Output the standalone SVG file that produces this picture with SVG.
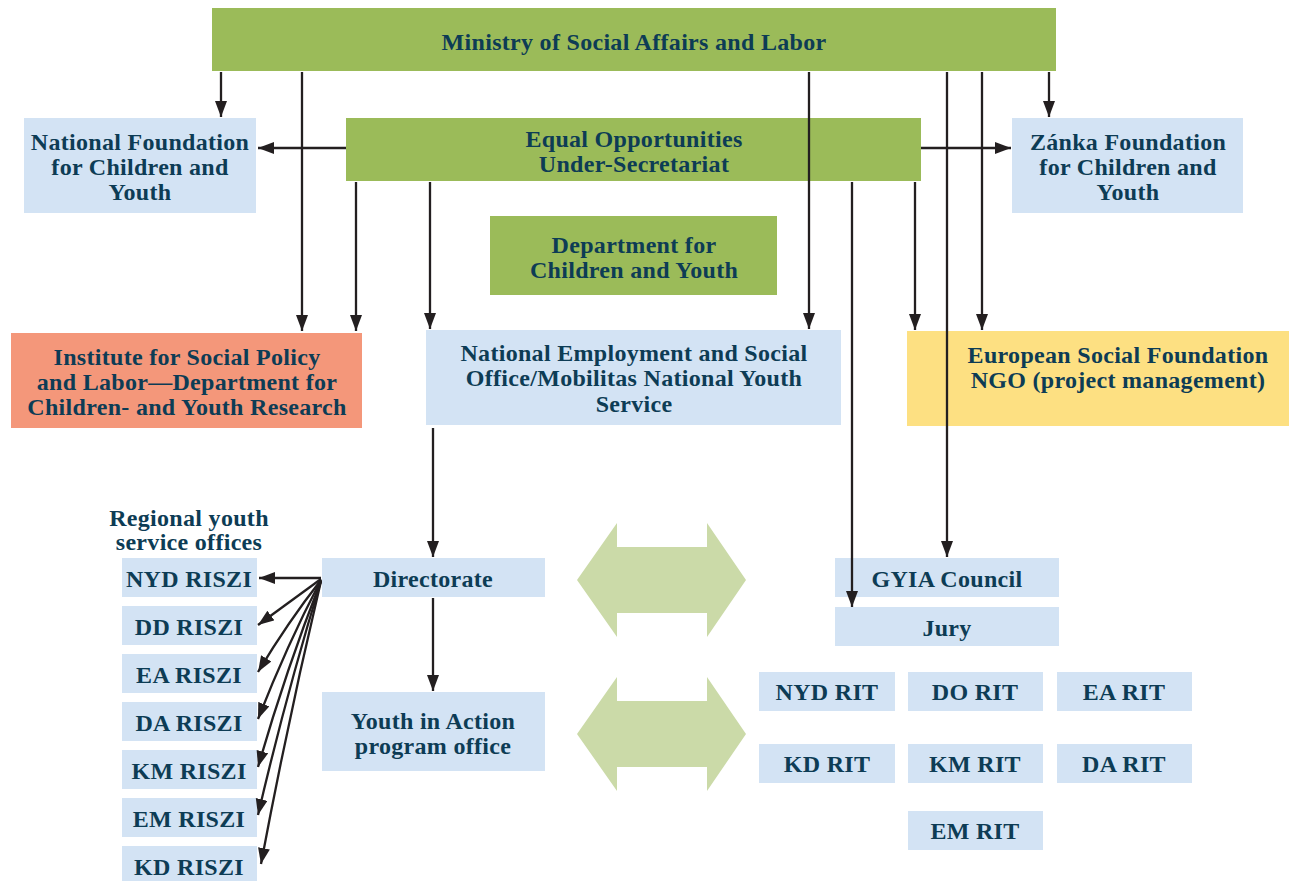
<svg xmlns="http://www.w3.org/2000/svg" width="1289" height="881" viewBox="0 0 1289 881">
<style>
.g{fill:#9bbb59}
.b{fill:#d3e3f4}
.t{font-family:"Liberation Serif","Times New Roman",serif;font-weight:bold;font-size:24px;letter-spacing:0.3px;fill:#0d3c55;text-anchor:middle}
.c{stroke:#231f20;stroke-width:2.3;fill:none;marker-end:url(#ah)}
.da{fill:#cbdaa8}
</style>
<defs>
<marker id="ah" markerUnits="userSpaceOnUse" markerWidth="17" markerHeight="13" refX="16" refY="6" orient="auto">
<path d="M0,0 L16,6 L0,12 z" fill="#231f20"/>
</marker>
</defs>
<rect width="1289" height="881" fill="#fff"/>
<g id="ministry"><rect class="g" x="212" y="8" width="844" height="63"/><text class="t" x="634" y="50">Ministry of Social Affairs and Labor</text></g>
<g id="nat-foundation"><rect class="b" x="24" y="118" width="232" height="95"/><text class="t" x="140" y="150">National Foundation</text><text class="t" x="140" y="175">for Children and</text><text class="t" x="140" y="200">Youth</text></g>
<g id="equal-opp"><rect class="g" x="346" y="118" width="575" height="63"/><text class="t" x="634" y="147">Equal Opportunities</text><text class="t" x="634" y="172">Under-Secretariat</text></g>
<g id="zanka"><rect class="b" x="1012" y="118" width="231" height="95"/><text class="t" x="1128" y="150">Zánka Foundation</text><text class="t" x="1128" y="175">for Children and</text><text class="t" x="1128" y="200">Youth</text></g>
<g id="department"><rect class="g" x="490" y="216" width="287" height="79"/><text class="t" x="634" y="253">Department for</text><text class="t" x="634" y="278">Children and Youth</text></g>
<g id="institute"><rect x="11" y="333" width="351" height="95" fill="#f4977a"/><text class="t" x="187" y="365">Institute for Social Policy</text><text class="t" x="187" y="390">and Labor—Department for</text><text class="t" x="187" y="415">Children- and Youth Research</text></g>
<g id="nat-employment"><rect class="b" x="426" y="330" width="415" height="95"/><text class="t" x="634" y="361">National Employment and Social</text><text class="t" x="634" y="386">Office/Mobilitas National Youth</text><text class="t" x="634" y="412">Service</text></g>
<g id="esf"><rect x="907" y="331" width="382" height="95" fill="#fde082"/><text class="t" x="1118" y="363">European Social Foundation</text><text class="t" x="1118" y="388">NGO (project management)</text></g>
<g id="regional-label"><text class="t" x="189" y="526">Regional youth</text><text class="t" x="189" y="550">service offices</text></g>
<g id="nyd-riszi"><rect class="b" x="122" y="558" width="135" height="39"/><text class="t" x="189" y="587">NYD RISZI</text></g>
<g id="dd-riszi"><rect class="b" x="122" y="606" width="135" height="39"/><text class="t" x="189" y="635">DD RISZI</text></g>
<g id="ea-riszi"><rect class="b" x="122" y="654" width="135" height="39"/><text class="t" x="189" y="683">EA RISZI</text></g>
<g id="da-riszi"><rect class="b" x="122" y="702" width="135" height="39"/><text class="t" x="189" y="731">DA RISZI</text></g>
<g id="km-riszi"><rect class="b" x="122" y="750" width="135" height="39"/><text class="t" x="189" y="779">KM RISZI</text></g>
<g id="em-riszi"><rect class="b" x="122" y="798" width="135" height="39"/><text class="t" x="189" y="827">EM RISZI</text></g>
<g id="kd-riszi"><rect class="b" x="122" y="846" width="135" height="39"/><text class="t" x="189" y="875">KD RISZI</text></g>
<g id="directorate"><rect class="b" x="322" y="558" width="223" height="39"/><text class="t" x="433" y="587">Directorate</text></g>
<g id="yia"><rect class="b" x="322" y="692" width="223" height="79"/><text class="t" x="433" y="729">Youth in Action</text><text class="t" x="433" y="754">program office</text></g>
<g id="double-arrow-1"><path class="da" d="M577,580 L617,523 V547 H707 V523 L746,580 L707,637 V613 H617 V637 z"/></g>
<g id="double-arrow-2"><path class="da" d="M577,734 L617,677 V701 H707 V677 L746,734 L707,791 V767 H617 V791 z"/></g>
<g id="gyia"><rect class="b" x="835" y="558" width="224" height="39"/><text class="t" x="947" y="587">GYIA Council</text></g>
<g id="jury"><rect class="b" x="835" y="607" width="224" height="39"/><text class="t" x="947" y="636">Jury</text></g>
<g id="nyd-rit"><rect class="b" x="759" y="672" width="136" height="39"/><text class="t" x="827" y="700">NYD RIT</text></g>
<g id="do-rit"><rect class="b" x="908" y="672" width="135" height="39"/><text class="t" x="975" y="700">DO RIT</text></g>
<g id="ea-rit"><rect class="b" x="1057" y="672" width="135" height="39"/><text class="t" x="1124" y="700">EA RIT</text></g>
<g id="kd-rit"><rect class="b" x="759" y="744" width="136" height="39"/><text class="t" x="827" y="772">KD RIT</text></g>
<g id="km-rit"><rect class="b" x="908" y="744" width="135" height="39"/><text class="t" x="975" y="772">KM RIT</text></g>
<g id="da-rit"><rect class="b" x="1057" y="744" width="135" height="39"/><text class="t" x="1124" y="772">DA RIT</text></g>
<g id="em-rit"><rect class="b" x="908" y="811" width="135" height="39"/><text class="t" x="975" y="839">EM RIT</text></g>
<g id="connectors">
<path class="c" d="M221,72 V117"/>
<path class="c" d="M302,72 V331"/>
<path class="c" d="M346,148 H258"/>
<path class="c" d="M356,182 V331"/>
<path class="c" d="M430,182 V329"/>
<path class="c" d="M809,72 V329"/>
<path class="c" d="M852,182 V607"/>
<path class="c" d="M915,182 V330"/>
<path class="c" d="M947,72 V557"/>
<path class="c" d="M982,72 V330"/>
<path class="c" d="M1049,72 V117"/>
<path class="c" d="M921,148 H1011"/>
<path class="c" d="M433,428 V557"/>
<path class="c" d="M433,598 V691"/>
<path class="c" d="M321,578 H259"/>
<path class="c" d="M321,579 L258,625"/>
<path class="c" d="M321,580 Q288,622 258,672"/>
<path class="c" d="M321,580 Q287,645 258,719"/>
<path class="c" d="M321,581 Q286,670 258,767"/>
<path class="c" d="M321,581 Q286,695 258,815"/>
<path class="c" d="M321,581 Q288,720 261,864"/>
</g>
</svg>
